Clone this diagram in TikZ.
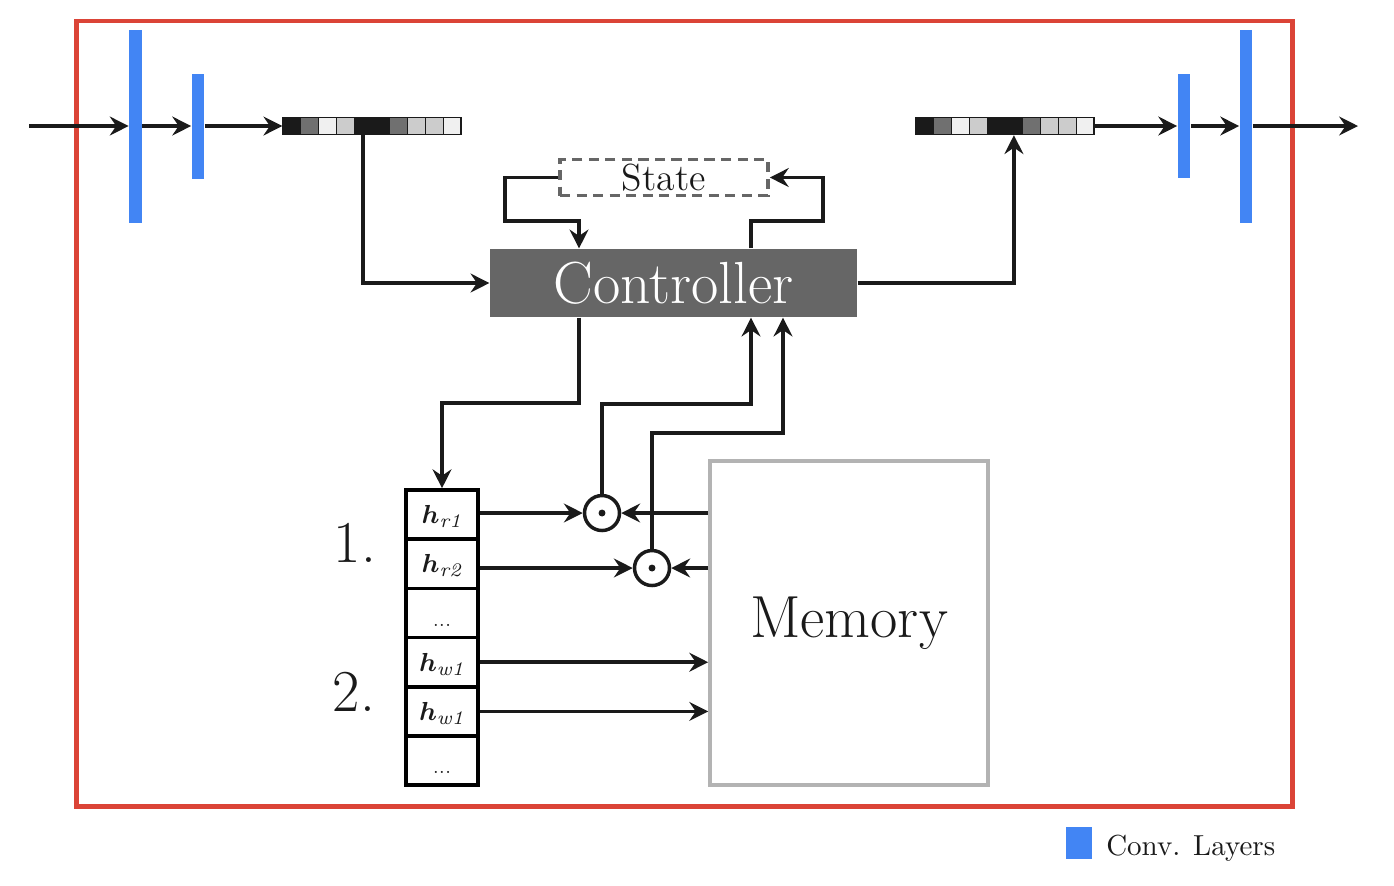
\documentclass[tikz,border=0pt]{standalone}
\usepackage{amsmath}
\usetikzlibrary{arrows.meta,calc}
\def\PX{0.345pt}
\definecolor{framered}{HTML}{DB4437}
\definecolor{conv}{HTML}{4285F4}
\definecolor{cdark}{HTML}{1A1A1A}
\definecolor{cmid}{HTML}{707070}
\definecolor{clight}{HTML}{CCCCCC}
\definecolor{cwhite}{HTML}{F0F0F0}
\definecolor{ctrlgray}{HTML}{666666}
\definecolor{memgray}{HTML}{B3B3B3}
\tikzset{
  arr/.style={draw=cdark, line width=1.2pt, -{Stealth[length=6.5pt,width=6.5pt,inset=2.2pt]}},
  convbar/.style={fill=conv, draw=none, inner sep=0pt, minimum width=12.5*\PX},
  stripcell/.style={draw=cdark, line width=0.45pt, inner sep=0pt, minimum width=17.8*\PX, minimum height=17*\PX},
  hcell/.style={draw=black, line width=1.25pt, inner sep=0pt, minimum width=72*\PX, minimum height=49.2*\PX},
  bigtext/.style={font=\fontsize{20.5}{24}\selectfont},
  htext/.style={anchor=base, font=\fontsize{9.5}{11}\selectfont, text=cdark},
  dotstext/.style={anchor=base, font=\fontsize{6}{7}\selectfont, text=cdark},
  odot/.style={circle, draw=cdark, line width=1.2pt, minimum size=35*\PX, inner sep=0pt},
}
\begin{document}
\begin{tikzpicture}[x=0.345pt,y=-0.345pt]
\useasboundingbox (0,0) rectangle (1394,885);
% frame
\draw[framered, line width=1.45pt] (76.5,21) rectangle (1292.5,806.5);
% strips
\foreach \c [count=\i from 0] in {cdark,cmid,cwhite,clight,cdark,cdark,cmid,clight,clight,cwhite}{
  \node[stripcell, fill=\c] (L\i) at (291.9+17.8*\i,126) {};
  \node[stripcell, fill=\c] (R\i) at (924.9+17.8*\i,126) {};
}
% conv layers
\node[convbar, minimum height=193*\PX] (cv1) at (135.5,126) {};
\node[convbar, minimum height=105*\PX] (cv2) at (198,126) {};
\node[convbar, minimum height=104*\PX] (cv3) at (1184,126) {};
\node[convbar, minimum height=193*\PX] (cv4) at (1246,126) {};
\coordinate (in) at (29,126);
\coordinate (out) at (1358,126);
\draw[arr] (in) -- (cv1.west);
\draw[arr] (cv1.east) -- (cv2.west);
\draw[arr] (cv2.east) -- (L0.west);
\draw[arr] (R9.east) -- (cv3.west);
\draw[arr] (cv3.east) -- (cv4.west);
\draw[arr] (cv4.east) -- (out);
% controller, state, memory
\node[fill=ctrlgray, text=white, minimum width=367*\PX, minimum height=68*\PX, inner sep=0pt, bigtext] (ctrl) at (673.5,283) {Controller};
\node[draw=ctrlgray, dash pattern=on 3.5pt off 2.2pt, line width=1.25pt, minimum width=208*\PX, minimum height=36*\PX, inner sep=0pt, font=\fontsize{13}{15}\selectfont, text=cdark] (state) at (664,177.5) {State};
\node[draw=memgray, line width=1.25pt, minimum width=278*\PX, minimum height=324*\PX, inner sep=0pt, bigtext, text=cdark] (mem) at (849,623) {Memory};
% stack
\foreach \i in {1,...,6}{
  \node[hcell] (m\i) at (442,490+49.2*\i-24.6) {};
}
\node[htext] (t1) at ($(m1.center)+(0,9)$) {$\boldsymbol{h}_{\textit{r1}}$};
\node[htext] (t2) at ($(m2.center)+(0,9)$) {$\boldsymbol{h}_{\textit{r2}}$};
\node[dotstext] (t3) at ($(m3.center)+(0,13)$) {...};
\node[htext] (t4) at ($(m4.center)+(0,9)$) {$\boldsymbol{h}_{\textit{w1}}$};
\node[htext] (t5) at ($(m5.center)+(0,9)$) {$\boldsymbol{h}_{\textit{w1}}$};
\node[dotstext] (t6) at ($(m6.center)+(0,13)$) {...};
\node[bigtext, text=cdark] (n1) at (355,543) {1.};
\node[bigtext, text=cdark] (n2) at (354,692) {2.};
% odot nodes
\node[odot] (o1) at (602,513) {};
\node[odot] (o2) at (652,568) {};
\fill[cdark] (o1.center) circle[radius=1.2pt];
\fill[cdark] (o2.center) circle[radius=1.2pt];
% connectors
\draw[arr] (m1.east |- o1.west) -- (o1.west);
\draw[arr] (m2.east |- o2.west) -- (o2.west);
\draw[arr] (mem.west |- o1.east) -- (o1.east);
\draw[arr] (mem.west |- o2.east) -- (o2.east);
\draw[arr] (m4.east) -- (m4.east -| mem.west);
\draw[arr] (m5.east) -- (m5.east -| mem.west);
\coordinate (k1) at (751,404);
\coordinate (k2) at (783,433);
\coordinate (k3) at (579,403);
\coordinate (s1) at (505,221);
\coordinate (s2) at (823,221);
\draw[arr] (o1.north) |- (k1) -- (k1 |- ctrl.south);
\draw[arr] (o2.north) |- (k2) -- (k2 |- ctrl.south);
\draw[arr] (k3 |- ctrl.south) -- (k3) -| (m1.north);
\draw[arr] (state.west) -| (s1) -| (k3 |- ctrl.north);
\draw[arr] (k1 |- ctrl.north) |- (s2) |- (state.east);
\draw[arr] (L4.south) |- (ctrl.west);
\draw[arr] (ctrl.east) -| (R5.south);
% legend
\node[fill=conv, minimum width=26*\PX, minimum height=32*\PX, inner sep=0pt] (lg) at (1079,843) {};
\node[anchor=base west, text=cdark] (lgt) at (1096,855) {Conv. Layers};
\end{tikzpicture}
\end{document}
